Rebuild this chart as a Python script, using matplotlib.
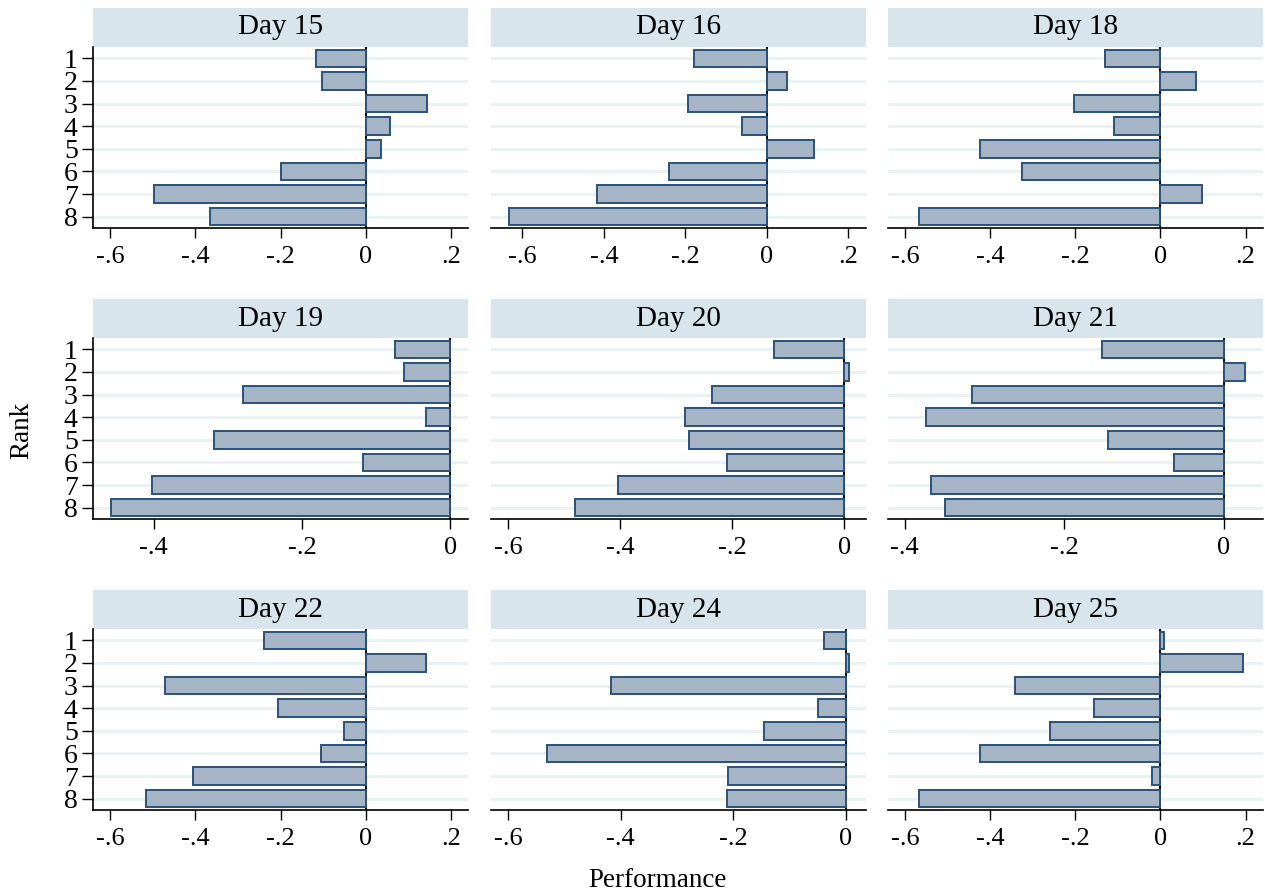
import numpy as np
import matplotlib
matplotlib.use("Agg")
import matplotlib.pyplot as plt
from matplotlib.ticker import FuncFormatter

plt.rcParams['font.family'] = ['Liberation Serif', 'DejaVu Serif']

days = [15, 16, 18, 19, 20, 21, 22, 24, 25]
ranks = [1, 2, 3, 4, 5, 6, 7, 8]

perf_day15 = [-0.117, -0.102, 0.144, 0.056, 0.036, -0.199, -0.498, -0.365]
perf_day16 = [-0.179, 0.049, -0.193, -0.061, 0.115, -0.240, -0.416, -0.634]
perf_day18 = [-0.131, 0.083, -0.202, -0.108, -0.425, -0.326, 0.097, -0.568]
perf_day19 = [-0.074, -0.063, -0.280, -0.032, -0.319, -0.118, -0.402, -0.458]
perf_day20 = [-0.125, 0.008, -0.235, -0.284, -0.277, -0.209, -0.403, -0.480]
perf_day21 = [-0.153, 0.026, -0.316, -0.374, -0.145, -0.062, -0.367, -0.349]
perf_day22 = [-0.238, 0.142, -0.472, -0.205, -0.051, -0.106, -0.406, -0.515]
perf_day24 = [-0.038, 0.005, -0.417, -0.050, -0.145, -0.531, -0.209, -0.210]
perf_day25 = [0.008, 0.194, -0.341, -0.157, -0.259, -0.425, -0.020, -0.568]

perf = [perf_day15, perf_day16, perf_day18, perf_day19, perf_day20,
        perf_day21, perf_day22, perf_day24, perf_day25]

# per-panel x axis (each panel has its own scale)
xlims = [(-0.640, 0.240), (-0.677, 0.243), (-0.640, 0.241),
         (-0.482, 0.024), (-0.630, 0.039), (-0.421, 0.049),
         (-0.640, 0.240), (-0.630, 0.036), (-0.640, 0.241)]
full_ticks = [-0.6, -0.4, -0.2, 0, 0.2]
xticks = [full_ticks, full_ticks, full_ticks,
          [-0.4, -0.2, 0], [-0.6, -0.4, -0.2, 0], [-0.4, -0.2, 0],
          full_ticks, [-0.6, -0.4, -0.2, 0], full_ticks]

bar_fill = '#a5b5c6'
bar_edge = '#2a527c'
strip_col = '#d9e5ec'
grid_col = '#e9f1f3'


def stata_fmt(v, pos):
    if abs(v) < 1e-9:
        return "0"
    s = "%g" % round(v, 3)
    return s.replace("0.", ".")


W, H = 1265, 896
fig = plt.figure(figsize=(W / 100, H / 100), dpi=100)

col_x = [93, 491, 888]
row_y = [8, 299, 590]
pw = 375
strip_h = 39
plot_h = 181

for i, day in enumerate(days):
    r, c = divmod(i, 3)
    x0 = col_x[c]
    y0 = row_y[r]
    # strip
    sax = fig.add_axes([x0 / W, 1 - (y0 + strip_h) / H, pw / W, strip_h / H])
    sax.set_facecolor(strip_col)
    sax.set_xticks([])
    sax.set_yticks([])
    for sp in sax.spines.values():
        sp.set_visible(False)
    sax.text(0.5, 0.5, f"Day {day}", ha='center', va='center', fontsize=21)

    ax = fig.add_axes([x0 / W, 1 - (y0 + strip_h + plot_h) / H, pw / W, plot_h / H])
    for rk in ranks:
        ax.axhline(rk, color=grid_col, lw=2, zorder=0)
    ax.axvline(0, color='black', lw=1.4, zorder=1)
    ax.barh(ranks, perf[i], height=0.77, color=bar_fill, edgecolor=bar_edge,
            linewidth=1.4, zorder=2)
    ax.set_xlim(*xlims[i])
    ax.set_ylim(8.5, 0.5)
    ax.set_xticks(xticks[i])
    ax.xaxis.set_major_formatter(FuncFormatter(stata_fmt))
    ax.spines['top'].set_visible(False)
    ax.spines['right'].set_visible(False)
    ax.spines['bottom'].set_linewidth(1.2)
    ax.tick_params(axis='x', direction='out', length=7, width=1, pad=6, labelsize=19)
    if c == 0:
        ax.set_yticks(ranks)
        ax.set_yticklabels([str(k) for k in ranks])
        ax.spines['left'].set_linewidth(1.2)
        ax.tick_params(axis='y', direction='out', length=8, width=1, pad=3, labelsize=20)
    else:
        ax.spines['left'].set_visible(False)
        ax.set_yticks([])

fig.text(22 / W, 1 - 430 / H, "Rank", rotation=90, ha='center', va='center', fontsize=19.5)
fig.text(657 / W, 1 - 880 / H, "Performance", ha='center', va='center', fontsize=19.5)

fig.savefig("out.png", dpi=100, facecolor='white')
